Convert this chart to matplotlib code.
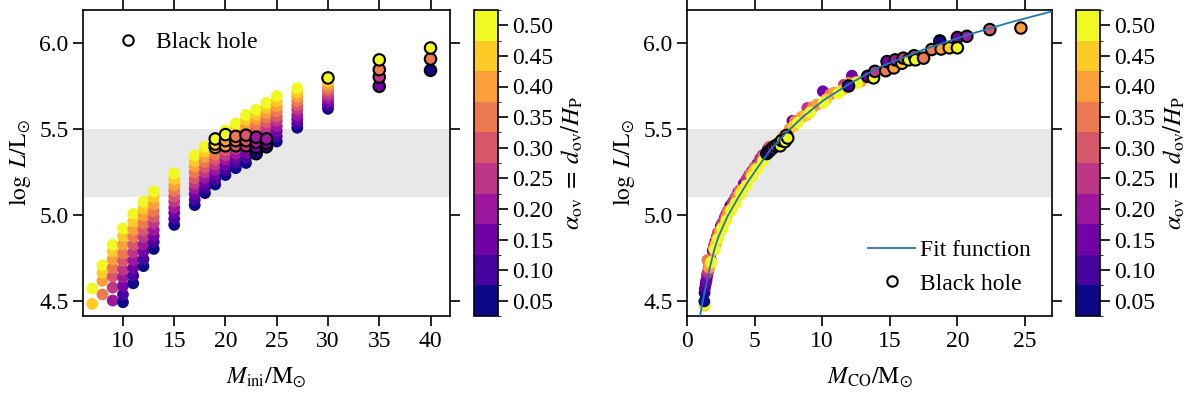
import numpy as np
import matplotlib
matplotlib.use('Agg')
import matplotlib.pyplot as plt
from matplotlib.colors import ListedColormap, BoundaryNorm
from matplotlib.lines import Line2D

plt.rcParams['font.family'] = 'serif'
plt.rcParams['font.serif'] = ['Liberation Serif', 'DejaVu Serif']
plt.rcParams['mathtext.fontset'] = 'stix'
plt.rcParams['font.size'] = 17

nan = np.nan

# overshoot values (colour)
ALPHA_OV = [0.05, 0.10, 0.15, 0.20, 0.25, 0.30, 0.35, 0.40, 0.45, 0.50]

# left panel: initial masses, log L for each alpha (0.05 -> 0.50), nan = no model
MASS_INI = [7, 8, 9, 10, 11, 12, 13, 15, 17, 18, 19, 20, 21, 22, 23, 24, 25, 27, 30]
LOGL_INI = [
    [nan, nan, nan, nan, nan, nan, nan, nan, 4.48, 4.57],
    [nan, nan, nan, nan, nan, nan, 4.535, 4.615, 4.66, 4.705],
    [nan, nan, nan, 4.50, 4.575, 4.64, 4.69, 4.74, 4.785, 4.825],
    [4.49, 4.535, 4.585, 4.635, 4.68, 4.73, 4.775, 4.825, 4.875, 4.92],
    [4.60, 4.645, 4.69, 4.735, 4.78, 4.825, 4.87, 4.915, 4.96, 5.005],
    [4.70, 4.74, 4.785, 4.825, 4.87, 4.91, 4.95, 4.995, 5.035, 5.075],
    [4.80, 4.84, 4.875, 4.91, 4.95, 4.985, 5.02, 5.06, 5.10, 5.135],
    [4.94, 4.975, 5.01, 5.04, 5.075, 5.105, 5.14, 5.17, 5.205, 5.24],
    [5.055, 5.085, 5.12, 5.15, 5.18, 5.21, 5.245, 5.28, 5.31, 5.345],
    [5.125, 5.155, 5.185, 5.215, 5.245, 5.275, 5.305, 5.335, 5.365, 5.395],
    [5.175, 5.205, 5.235, 5.26, 5.29, 5.32, 5.35, 5.38, 5.41, 5.44],
    [5.23, 5.26, 5.29, 5.32, 5.345, 5.375, 5.405, 5.435, 5.46, 5.49],
    [5.27, 5.30, 5.33, 5.355, 5.385, 5.415, 5.445, 5.47, 5.50, 5.53],
    [5.30, 5.33, 5.36, 5.39, 5.425, 5.455, 5.485, 5.515, 5.55, 5.58],
    [5.35, 5.38, 5.41, 5.44, 5.465, 5.495, 5.525, 5.555, 5.58, 5.61],
    [5.39, 5.42, 5.45, 5.475, 5.505, 5.535, 5.565, 5.59, 5.62, 5.65],
    [5.425, 5.455, 5.485, 5.515, 5.545, 5.57, 5.60, 5.63, 5.66, 5.69],
    [5.505, 5.53, 5.555, 5.58, 5.61, 5.635, 5.66, 5.685, 5.71, 5.735],
    [5.615, 5.635, 5.655, 5.675, 5.695, 5.715, 5.735, 5.755, 5.775, nan],
]

# left panel black hole models
BH_MASS_INI = [19, 19, 19, 20, 20, 20, 21, 21, 21, 22, 22, 22,
               23, 23, 23, 23, 24, 24, 24, 30, 35, 35, 35, 35, 40, 40, 40]
BH_LOGL_INI = [5.39, 5.41, 5.44, 5.40, 5.43, 5.465, 5.40, 5.43, 5.455, 5.40, 5.43, 5.462,
               5.355, 5.39, 5.42, 5.45, 5.395, 5.415, 5.44, 5.795, 5.746, 5.80, 5.843, 5.90,
               5.839, 5.905, 5.969]
BH_ALPHA_INI = [0.40, 0.45, 0.50, 0.40, 0.40, 0.50, 0.30, 0.35, 0.35, 0.25, 0.30, 0.30,
                0.05, 0.15, 0.20, 0.20, 0.10, 0.15, 0.20, 0.50, 0.15, 0.25, 0.35, 0.50,
                0.05, 0.35, 0.50]

# right panel: lowest models drawn first
LOW_MCO = [1.30, 1.34]
LOW_LOGL = [4.47, 4.478]
LOW_ALPHA = [0.45, 0.50]

# right panel: M_CO and log L per alpha
MCO = [
    [1.28, 1.30, 1.38, 1.50, 1.63, 2.3, 3.2],
    [1.32, 1.45, 1.75, 2.2, 2.9, 3.8, 4.8],
    [1.4, 1.9, 2.5, 3.3, 4.2, 5.2, 6.0, 7.8, 10.05, 12.2],
    [1.5, 2.1, 2.8, 3.6, 4.6, 5.6],
    [1.55, 2.0, 2.6, 3.4, 4.4, 5.4, 8.9, 11.6],
    [1.6, 2.3, 3.0, 3.9, 5.0, 6.1],
    [1.5, 1.75, 2.2, 2.9, 3.7, 4.7, 5.7, 8.0, 9.3, 10.6],
    [1.65, 2.0, 2.45, 3.1, 3.9, 4.9, 5.9, 7.2, 7.6, 8.5, 9.6, 10.9, 12.0, 12.9],
    [1.75, 2.15, 2.6, 3.3, 4.1, 5.1, 6.2, 7.1, 7.9, 8.8, 10.3, 11.5, 12.5],
    [1.8, 2.05, 2.3, 2.6, 2.9, 3.25, 3.6, 4.0, 4.4, 4.8, 5.2, 5.6, 6.0, 6.4, 6.8,
     8.2, 9.1, 10.1, 11.2, 12.6],
]
LOGL = [
    [4.495, 4.545, 4.595, 4.645, 4.69, 4.895, 5.05],
    [4.57, 4.62, 4.74, 4.87, 5.00, 5.13, 5.25],
    [4.61, 4.79, 4.935, 5.06, 5.18, 5.295, 5.385, 5.545, 5.717, 5.808],
    [4.655, 4.845, 4.985, 5.10, 5.23, 5.345],
    [4.665, 4.82, 4.95, 5.075, 5.205, 5.325, 5.62, 5.755],
    [4.69, 4.895, 5.02, 5.14, 5.275, 5.395],
    [4.735, 4.735, 4.86, 4.99, 5.105, 5.235, 5.345, 5.545, 5.625, 5.70],
    [4.69, 4.80, 4.905, 5.015, 5.125, 5.25, 5.355, 5.46, 5.50, 5.57, 5.64, 5.71, 5.765, 5.775],
    [4.715, 4.83, 4.925, 5.035, 5.145, 5.265, 5.385, 5.455, 5.515, 5.575, 5.67, 5.725, 5.77],
    [4.725, 4.795, 4.86, 4.915, 4.965, 5.02, 5.068, 5.12, 5.17, 5.22, 5.265, 5.31, 5.35,
     5.39, 5.425, 5.535, 5.595, 5.65, 5.705, 5.765],
]

# right panel black hole models
BH_MCO = [5.9, 6.1, 6.3, 6.55, 6.75, 6.9, 7.0, 7.25, 7.35, 7.45,
          11.95, 13.36, 13.8, 13.9, 14.7, 14.8, 15.3, 15.4, 15.9, 16.0, 16.4, 16.8,
          16.9, 17.5, 18.1, 18.7, 18.8, 19.4, 20.0, 20.0, 20.7, 22.4, 24.7]
BH_LOGL = [5.355, 5.37, 5.385, 5.40, 5.41, 5.40, 5.43, 5.425, 5.46, 5.445,
           5.748, 5.804, 5.795, 5.833, 5.837, 5.89, 5.853, 5.90, 5.88, 5.91, 5.90, 5.924,
           5.90, 5.91, 5.96, 6.01, 5.963, 5.97, 6.03, 5.97, 6.037, 6.076, 6.085]
BH_ALPHA = [0.05, 0.10, 0.15, 0.25, 0.35, 0.50, 0.40, 0.50, 0.45, 0.50,
            0.10, 0.15, 0.50, 0.25, 0.35, 0.15, 0.40, 0.20, 0.45, 0.25, 0.50, 0.25,
            0.50, 0.35, 0.35, 0.05, 0.40, 0.45, 0.15, 0.50, 0.20, 0.30, 0.40]

# fit function
FIT_MCO = [0.96, 1.2, 1.45, 1.7, 2.0, 2.32, 3.0, 3.8, 4.5, 5.28, 6.2, 7.26, 8.6,
           10.1, 12.0, 14.3, 17.5, 20.96, 24.0, 27.0]
FIT_LOGL = [4.41, 4.51, 4.605, 4.695, 4.79, 4.87, 4.99, 5.10, 5.19, 5.28, 5.38, 5.47,
            5.57, 5.665, 5.76, 5.86, 5.96, 6.05, 6.12, 6.182]

cmap = ListedColormap(plt.cm.plasma(np.linspace(0, 1, 10)))
norm = BoundaryNorm(np.arange(0.025, 0.55, 0.05), cmap.N)

fig = plt.figure(figsize=(12, 3.93), dpi=100)
H = 393.0
ax1 = fig.add_axes([83 / 1200, 77 / H, 367 / 1200, 306 / H])
cax1 = fig.add_axes([474 / 1200, 77 / H, 24 / 1200, 306 / H])
ax2 = fig.add_axes([687 / 1200, 77 / H, 365 / 1200, 306 / H])
cax2 = fig.add_axes([1076 / 1200, 77 / H, 24 / 1200, 306 / H])

pt = dict(s=72, cmap=cmap, norm=norm, edgecolors='face', linewidths=0)
bh = dict(s=68, cmap=cmap, norm=norm, edgecolors='k', linewidths=1.5)

# left panel
xs, ys, cs = [], [], []
for m, row in zip(MASS_INI, LOGL_INI):
    for a, l in zip(ALPHA_OV, row):
        if not np.isnan(l):
            xs.append(m)
            ys.append(l)
            cs.append(a)
ax1.axhspan(5.1, 5.5, color='#e8e8e8', lw=0, zorder=0)
sc = ax1.scatter(xs, ys, c=cs, zorder=2, **pt)
ax1.scatter(BH_MASS_INI, BH_LOGL_INI, c=BH_ALPHA_INI, zorder=3, **bh)
ax1.set_xlim(6.1, 41.9)
ax1.set_ylim(4.41, 6.19)
ax1.set_xticks([10, 15, 20, 25, 30, 35, 40])
ax1.set_xlabel(r'$M_{\rm ini}/\mathrm{M}_{\odot}$', labelpad=10)
ax1.set_ylabel(r'$\log\ L/\mathrm{L}_{\odot}$')

bh_handle = Line2D([], [], ls='none', marker='o', mfc='white', mec='k', mew=1.5, ms=7.5)
ax1.legend([bh_handle], ['Black hole'], loc='upper left', frameon=False,
           handletextpad=0.2)

# right panel
ax2.axhspan(5.1, 5.5, color='#e8e8e8', lw=0, zorder=0)
ax2.scatter(LOW_MCO, LOW_LOGL, c=LOW_ALPHA, zorder=2, **pt)
for a, mm, ll in zip(ALPHA_OV, MCO, LOGL):
    ax2.scatter(mm, ll, c=[a] * len(mm), zorder=2, **pt)
ax2.scatter(BH_MCO, BH_LOGL, c=BH_ALPHA, zorder=3, **bh)
fit_line, = ax2.plot(FIT_MCO, FIT_LOGL, color='#1f77b4', lw=1.3, zorder=4)
ax2.set_xlim(0, 27)
ax2.set_ylim(4.41, 6.19)
ax2.set_xticks([0, 5, 10, 15, 20, 25])
ax2.set_xlabel(r'$M_{\rm CO}/\mathrm{M}_{\odot}$', labelpad=10)
ax2.set_ylabel(r'$\log\ L/\mathrm{L}_{\odot}$')
ax2.legend([fit_line, bh_handle], ['Fit function', 'Black hole'], loc='lower right',
           frameon=False, handletextpad=0.2)

for ax in (ax1, ax2):
    ax.set_yticks([4.5, 5.0, 5.5, 6.0])
    ax.set_yticklabels(['4.5', '5.0', '5.5', '6.0'])
    ax.tick_params(direction='out', top=True, right=True, length=7, width=1.2)
    for s in ax.spines.values():
        s.set_linewidth(1.2)

for cax in (cax1, cax2):
    cb = fig.colorbar(sc, cax=cax, ticks=ALPHA_OV)
    cb.ax.set_yticklabels(['%.2f' % a for a in ALPHA_OV])
    cb.set_label(r'$\alpha_{\rm ov}\;=\;d_{\rm ov}/H_{\rm P}$', fontsize=18)
    cb.outline.set_linewidth(1.2)
    cax.tick_params(length=7, width=1.2)

fig.savefig('out.png', dpi=100)
